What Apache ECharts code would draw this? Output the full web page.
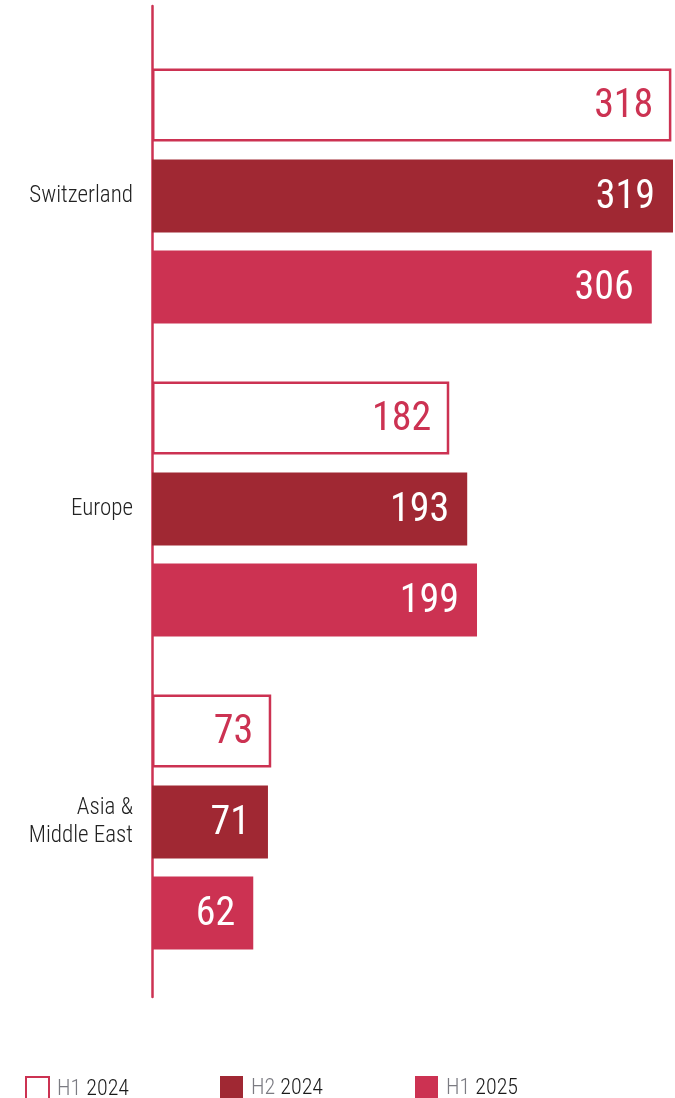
<!DOCTYPE html>
<html>
<head>
<meta charset="utf-8">
<script src="https://cdn.jsdelivr.net/npm/echarts@6/dist/echarts.min.js"></script>
<style>
html,body{margin:0;padding:0;background:#fff;}
#chart{width:675px;height:1098px;}
</style>
</head>
<body>
<div id="chart"></div>
<script>
const categories = ['Switzerland', 'Europe', 'Asia &\nMiddle East'];
const seriesNames = ['H1 2024', 'H2 2024', 'H1 2025'];
const h1_2024 = [318, 182, 73];
const h2_2024 = [319, 193, 71];
const h1_2025 = [306, 199, 62];

const PINK = '#CC3252';
const DARK = '#A02833';
const FONT = "'Roboto Condensed', 'Roboto', sans-serif";

const chart = echarts.init(document.getElementById('chart'), null, {renderer: 'canvas'});

function legendFor(name, left) {
  const parts = name.split(' ');
  return {
    data: [name],
    left: left,
    top: 1076,
    padding: 0,
    itemWidth: 23,
    itemHeight: 23,
    itemGap: 0,
    selectedMode: false,
    icon: 'rect',
    formatter: () => '{a|' + parts[0] + '} {b|' + parts[1] + '}',
    textStyle: {
      fontFamily: FONT,
      fontSize: 22,
      padding: [2, 0, 0, 3],
      rich: {
        a: {color: '#7b7b82', fontSize: 22, fontFamily: FONT, fontWeight: 300},
        b: {color: '#1a1a1a', fontSize: 22, fontFamily: FONT, fontWeight: 300}
      }
    }
  };
}

const labelBase = {
  show: true,
  position: 'insideRight',
  distance: 18,
  offset: [0, 2],
  fontFamily: FONT,
  fontSize: 40,
  fontWeight: 'normal'
};

chart.setOption({
  animation: false,
  backgroundColor: '#fff',
  legend: [
    legendFor(seriesNames[0], 25),
    legendFor(seriesNames[1], 220),
    legendFor(seriesNames[2], 415)
  ],
  grid: [
    {left: 152, right: 2, top: 39.5, bottom: 119.5, containLabel: false},
    {left: 152, right: 2, top: 6, bottom: 101, containLabel: false}
  ],
  xAxis: [
    {type: 'value', gridIndex: 0, min: 0, max: 319, show: false},
    {type: 'value', gridIndex: 1, min: 0, max: 1, show: false}
  ],
  yAxis: [
    {
      type: 'category', gridIndex: 0, data: categories, inverse: true,
      axisLine: {show: false}, axisTick: {show: false},
      axisLabel: {
        margin: 19, color: '#222', fontSize: 23, fontFamily: FONT, fontWeight: 300,
        lineHeight: 28, align: 'right', padding: [3, 0, 0, 0]
      }
    },
    {
      type: 'value', gridIndex: 1, min: 0, max: 1,
      axisLine: {show: true, lineStyle: {color: PINK, width: 2.5}},
      axisTick: {show: false}, axisLabel: {show: false}, splitLine: {show: false}
    }
  ],
  series: [
    {
      name: seriesNames[0], type: 'bar', data: h1_2024,
      barWidth: 73, barGap: '24.5%',
      itemStyle: {color: '#fff', borderColor: PINK, borderWidth: 2.5},
      label: Object.assign({}, labelBase, {color: PINK})
    },
    {
      name: seriesNames[1], type: 'bar', data: h2_2024,
      barWidth: 73, barGap: '24.5%',
      itemStyle: {color: DARK},
      label: Object.assign({}, labelBase, {color: '#fff'})
    },
    {
      name: seriesNames[2], type: 'bar', data: h1_2025,
      barWidth: 73, barGap: '24.5%',
      itemStyle: {color: PINK},
      label: Object.assign({}, labelBase, {color: '#fff'})
    }
  ]
});
</script>
</body>
</html>
